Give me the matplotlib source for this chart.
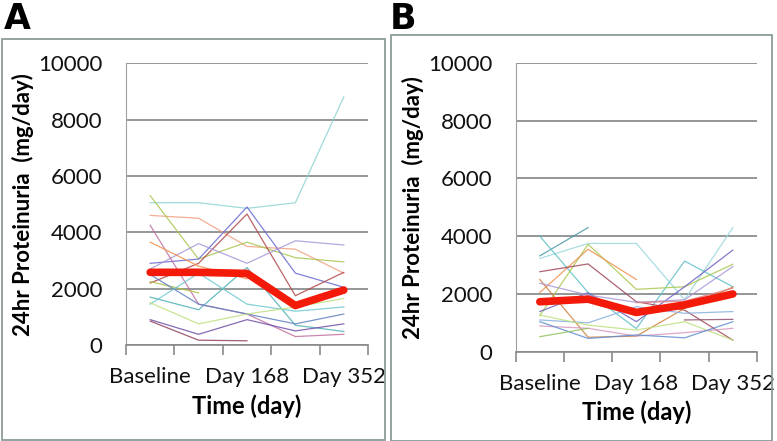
import numpy as np
import matplotlib
matplotlib.use("Agg")
import matplotlib.pyplot as plt
from matplotlib.patches import Rectangle

nan = np.nan
categories = ["Baseline", "", "Day 168", "", "Day 352"]

# Panel A: individual patients (mg/day)
a_series = [
    [5050, 5050, 4850, 5050, 8810],
    [4600, 4500, 3500, 3400, 2550],
    [5300, 3050, 3650, 3100, 2950],
    [2900, 3050, 4900, 2550, 2050],
    [2200, 2900, 4650, 1750, 2580],
    [2700, 3600, 2900, 3700, 3550],
    [4250, 1450, 1100, 300, 380],
    [3650, 2800, 2350, nan, nan],
    [1700, 1250, 2750, 700, 480],
    [2250, 1850, nan, nan, nan],
    [2500, 1450, 1100, 750, 1100],
    [1450, 2550, 1450, 1200, 1350],
    [1500, 750, 1100, 1350, 1650],
    [900, 380, 900, 500, 750],
    [850, 170, 150, nan, nan],
]
a_colors = ['#8fd4d4', '#f0a080', '#a8c850', '#6a6ad0', '#b04848', '#a898d8',
            '#c070a0', '#f09050', '#50b0b8', '#b0c040', '#6080c0', '#70c8d0',
            '#c0e080', '#7050a8', '#904060']
a_mean = [2580, 2580, 2540, 1400, 1950]

# Panel B: individual patients (mg/day)
b_series = [
    [3320, 4300, nan, nan, nan],
    [3230, 3750, 3750, 1800, 4300],
    [4000, 2050, 800, 3140, 2250],
    [1250, 3720, 2160, 2250, 3030],
    [2050, 3550, 2500, nan, nan],
    [2770, 3040, 1730, 1440, 400],
    [2500, 500, 540, 1500, 2240],
    [1390, 2040, 1040, 2250, 3520],
    [2370, 1960, 1710, 1800, 2950],
    [1100, 1000, 1560, 1330, 1390],
    [1270, 920, 750, 1040, 400],
    [890, 810, 540, 660, 810],
    [1040, 460, 580, 480, 1040],
    [520, 810, nan, nan, nan],
    [nan, nan, 1700, 1750, 2200],
    [nan, nan, nan, 1100, 1120],
]
b_colors = ['#4a9aa8', '#9ad8dc', '#60c0c8', '#a8c850', '#f09050', '#a04858',
            '#d08040', '#7060c0', '#a898d8', '#88b0e0', '#c0e080', '#d898c0',
            '#6090d0', '#90c060', '#e08080', '#905070']
b_mean = [1730, 1820, 1360, 1620, 2000]

font = 'Lato'
plt.rcParams['font.family'] = [font, 'DejaVu Sans']

fig = plt.figure(figsize=(7.77, 4.41), dpi=100)
W, H = 777, 441

def fx(px):
    return px / W

def fy(py):
    return 1 - py / H

# panel boxes
box_col = '#8c9c98'
fig.patches.append(Rectangle((fx(2), fy(440)), fx(383), (440 - 39) / H, transform=fig.transFigure,
                             fill=False, edgecolor=box_col, lw=1.3))
fig.patches.append(Rectangle((fx(391), fy(441)), fx(381), (441 - 39) / H + 0.01, transform=fig.transFigure,
                             fill=False, edgecolor=box_col, lw=1.3, clip_on=False))

fig.text(fx(4), fy(29), 'A', fontsize=25, fontweight='bold', family='DejaVu Sans', ha='left', va='baseline')
fig.text(fx(390), fy(29), 'B', fontsize=25, fontweight='bold', family='DejaVu Sans', ha='left', va='baseline')

def make_panel(rect, series, colors, mean, ylab_x):
    ax = fig.add_axes(rect)
    x = np.arange(1, len(categories) + 1)
    for s, c in zip(series, colors):
        ax.plot(x, s, color=c, lw=0.9, alpha=0.85, zorder=2)
    ax.plot(x, mean, color='#f41a0a', lw=5.5, solid_capstyle='round', solid_joinstyle='round', zorder=3)
    ax.set_xlim(0.5, len(categories) + 0.5)
    ax.set_ylim(0, 10000)
    ax.set_yticks(np.arange(0, 10001, 2000))
    ax.set_xticks(x)
    ax.set_xticklabels(categories)
    ax.set_xticks(np.arange(0.5, len(categories) + 1, 1), minor=True)
    ax.tick_params(axis='x', which='major', length=0, pad=16, labelsize=16, labelcolor='#111111')
    ax.tick_params(axis='x', which='minor', length=7, width=1.2, color='#8a8a8a', direction='out')
    ax.tick_params(axis='y', length=0, pad=17, labelsize=16, labelcolor='#111111')
    ax.grid(axis='y', color='#8a8f8f', lw=1.3, zorder=1)
    for sp in ['top', 'right']:
        ax.spines[sp].set_visible(False)
    ax.spines['left'].set_color('#a0a0a0')
    ax.spines['bottom'].set_color('#8a8a8a')
    ax.spines['bottom'].set_linewidth(1.2)
    ax.set_axisbelow(True)
    ax.set_xlabel('Time (day)', fontsize=17, fontweight='bold', labelpad=5)
    ax.set_ylabel('24hr Proteinuria  (mg/day)', fontsize=16, fontweight='bold')
    ax.yaxis.set_label_coords(ylab_x, 0.5)
    return ax

axA = make_panel([fx(126), fy(345), fx(368 - 126), (345 - 63.3) / H], a_series, a_colors, a_mean, -0.38)
axB = make_panel([fx(515.7), fy(351.7), fx(757 - 515.7), (351.7 - 63) / H], b_series, b_colors, b_mean, -0.38)

fig.savefig('out.png', dpi=100)
